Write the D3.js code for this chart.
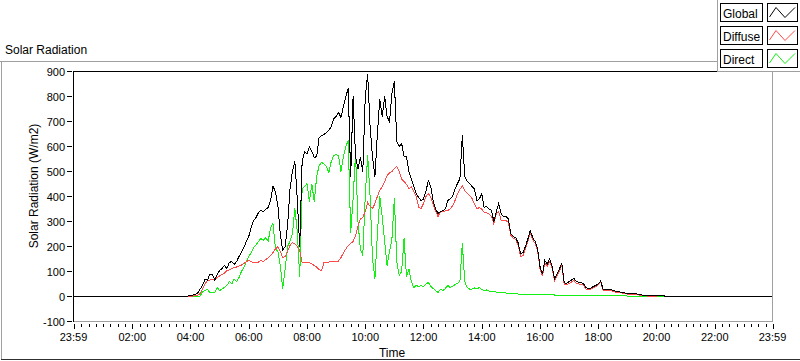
<!DOCTYPE html>
<html>
<head>
<meta charset="utf-8">
<title>Solar Radiation</title>
<style>
  body { margin: 0; background: #fff; }
  svg text { font-family: "Segoe UI", Tahoma, "Liberation Sans", Arial, sans-serif; fill: #000; }
</style>
<script src="https://d3js.org/d3.v7.min.js"></script>
</head>
<body>
<script>
// first entry "23:59" is the previous day (start of the axis)
const times = ["23:59", "03:50",
  "04:00","04:05","04:10","04:15","04:20","04:25","04:30","04:35","04:40","04:45","04:50","04:55",
  "05:00","05:05","05:10","05:15","05:20","05:25","05:30","05:35","05:40","05:45","05:50","05:55",
  "06:00","06:05","06:10","06:15","06:20","06:25","06:30","06:35","06:40","06:45","06:50","06:55",
  "07:00","07:05","07:10","07:15","07:20","07:25","07:30","07:35","07:40","07:45","07:50","07:55",
  "08:00","08:05","08:10","08:15","08:20","08:25","08:30","08:35","08:40","08:45","08:50","08:55",
  "09:00","09:05","09:10","09:15","09:20","09:25","09:30","09:35","09:40","09:45","09:50","09:55",
  "10:00","10:05","10:10","10:15","10:20","10:25","10:30","10:35","10:40","10:45","10:50","10:55",
  "11:00","11:05","11:10","11:15","11:20","11:25","11:30","11:35","11:40","11:45","11:50","11:55",
  "12:00","12:05","12:10","12:15","12:20","12:25","12:30","12:35","12:40","12:45","12:50","12:55",
  "13:00","13:05","13:10","13:15","13:20","13:25","13:30","13:35","13:40","13:45","13:50","13:55",
  "14:00","14:05","14:10","14:15","14:20","14:25","14:30","14:35","14:40","14:45","14:50","14:55",
  "15:00","15:05","15:10","15:15","15:20","15:25","15:30","15:35","15:40","15:45","15:50","15:55",
  "16:00","16:05","16:10","16:15","16:20","16:25","16:30","16:35","16:40","16:45","16:50","16:55",
  "17:00","17:05","17:10","17:15","17:20","17:25","17:30","17:35","17:40","17:45","17:50","17:55",
  "18:00","18:05","18:10","18:15","18:20","18:25","18:30",
  "18:40","18:50","19:00","19:10","19:20","19:30","19:40","19:50","20:00","20:10","20:20",
  "20:30","23:59"];

const globalRad = [0, 0,
  4, 6, 8, 14, 30, 45, 70, 64, 90, 88, 66, 88,
  104, 112, 124, 112, 136, 140, 128, 140, 160, 176, 196, 220,
  240, 276, 304, 316, 336, 344, 340, 348, 356, 384, 440, 420,
  364, 250, 185, 200, 284, 430, 500, 540, 390, 200, 540, 580,
  570, 600, 580, 556, 560, 636, 644, 648, 656, 664, 680, 710,
  720, 736, 716, 760, 800, 832, 480, 800, 560, 510, 556, 500,
  796, 890, 680, 556, 480, 650, 790, 720, 800, 720, 700, 812,
  860, 620, 600, 612, 560, 560, 500, 470, 440, 410, 396, 384,
  390, 420, 464, 440, 380, 350, 332, 340, 344, 350, 384, 390,
  400, 430, 452, 470, 644, 480, 460, 452, 440, 430, 384, 390,
  410, 356, 360, 350, 345, 300, 340, 372, 330, 320, 320, 310,
  250, 240, 235, 215, 172, 176, 200, 230, 264, 236, 220, 192,
  120, 90, 144, 130, 150, 120, 70, 90, 110, 132, 55, 52,
  60, 66, 72, 60, 56, 56, 50, 36, 32, 34, 40, 44,
  50, 62, 30, 28, 26, 28, 24,
  20, 16, 12, 12, 10, 6, 4, 4, 4, 6, 0,
  0, 0];

const diffuseRad = [0, 0,
  0, 2, 4, 6, 12, 30, 50, 64, 66, 70, 70, 76,
  82, 88, 94, 104, 106, 112, 116, 118, 122, 126, 132, 140,
  144, 140, 136, 134, 138, 144, 140, 148, 154, 164, 176, 190,
  200, 180, 156, 160, 180, 204, 216, 210, 200, 184, 136, 136,
  138, 136, 130, 124, 118, 108, 104, 136, 138, 138, 140, 140,
  142, 142, 156, 174, 190, 204, 212, 220, 244, 280, 310, 316,
  340, 376, 360, 352, 372, 400, 425, 440, 460, 484, 494, 500,
  512, 520, 500, 470, 460, 448, 432, 438, 420, 400, 358, 352,
  372, 400, 412, 396, 370, 340, 320, 340, 338, 342, 344, 350,
  364, 384, 410, 428, 444, 424, 412, 404, 392, 370, 350, 356,
  350, 336, 334, 330, 320, 290, 330, 340, 304, 304, 304, 296,
  244, 234, 228, 206, 160, 164, 192, 222, 252, 228, 212, 184,
  112, 82, 134, 122, 140, 112, 64, 82, 102, 124, 48, 46,
  52, 58, 64, 52, 50, 50, 44, 30, 28, 30, 36, 40,
  46, 58, 26, 24, 22, 24, 20,
  16, 14, 10, 10, 8, 4, 2, 2, 2, 4, 0,
  0, 0];

const directRad = [0, 0,
  0, 0, 0, 0, 2, 20, 24, 28, 16, 14, 16, 36,
  24, 30, 36, 44, 60, 50, 70, 60, 76, 100, 116, 140,
  160, 176, 196, 206, 220, 232, 224, 236, 220, 276, 292, 192,
  180, 124, 32, 110, 200, 220, 250, 352, 260, 80, 430, 440,
  452, 380, 450, 380, 480, 524, 536, 530, 520, 496, 540, 564,
  568, 564, 500, 560, 600, 624, 256, 392, 572, 300, 190, 164,
  400, 564, 400, 152, 72, 250, 400, 320, 220, 124, 180, 230,
  392, 140, 84, 100, 232, 80, 110, 60, 36, 44, 40, 44,
  40, 50, 56, 40, 32, 24, 16, 28, 24, 32, 44, 36,
  40, 48, 52, 60, 212, 60, 36, 30, 30, 34, 30, 36,
  28, 24, 26, 22, 20, 22, 18, 16, 18, 16, 14, 12,
  12, 12, 12, 10, 10, 10, 8, 8, 8, 8, 8, 8,
  8, 8, 8, 8, 8, 8, 6, 6, 6, 6, 6, 6,
  6, 6, 6, 6, 6, 6, 4, 4, 4, 4, 4, 4,
  4, 4, 4, 4, 4, 6, 6,
  6, 4, 2, 2, 0, 0, 0, 0, 0, 0, 0,
  0, 0];

const yTicks = [-100, 0, 100, 200, 300, 400, 500, 600, 700, 800, 900];
const xTickLabels = ["23:59", "02:00", "04:00", "06:00", "08:00", "10:00", "12:00",
  "14:00", "16:00", "18:00", "20:00", "22:00", "23:59"];
const seriesNames = ["Global", "Diffuse", "Direct"];
const seriesColors = ["#000000", "#ff4a4a", "#14f014"];

function toMinutes(s, prevDay) {
  const p = s.split(":").map(Number);
  return prevDay ? p[0] * 60 + p[1] - 1440 : p[0] * 60 + p[1];
}

const width = 800, height = 361;
const svg = d3.select("body").append("svg")
  .attr("width", width)
  .attr("height", height);

const x = d3.scaleLinear().domain([-1, 1439]).range([73.5, 772.5]);
const y = d3.scaleLinear().domain([-100, 900]).range([321.5, 71.5]);

// outer panel frame
svg.append("line").attr("x1", 0).attr("x2", 800).attr("y1", 61.5).attr("y2", 61.5).attr("stroke", "#a0a0a0");
svg.append("line").attr("x1", 1.5).attr("x2", 1.5).attr("y1", 61).attr("y2", 360).attr("stroke", "#a0a0a0");
svg.append("line").attr("x1", 1).attr("x2", 800).attr("y1", 359.5).attr("y2", 359.5).attr("stroke", "#303030");

svg.append("text").attr("x", 5).attr("y", 54).style("font-size", "12px").text("Solar Radiation");

// plot area
svg.append("rect").attr("x", 73.5).attr("y", 71.5).attr("width", 699).attr("height", 250).attr("fill", "#fff");

const lineGen = d3.line()
  .x((d, i) => x(toMinutes(times[i], i === 0)))
  .y(d => y(d));

const series = [globalRad, diffuseRad, directRad];
for (let k = series.length - 1; k >= 0; k--) {
  svg.append("path")
    .datum(series[k])
    .attr("d", lineGen)
    .attr("fill", "none")
    .attr("stroke", seriesColors[k])
    .attr("stroke-width", 1)
    .attr("shape-rendering", "crispEdges");
}

// plot frame
svg.append("line").attr("x1", 73).attr("x2", 773).attr("y1", 71.5).attr("y2", 71.5).attr("stroke", "#000");
svg.append("line").attr("x1", 73.5).attr("x2", 73.5).attr("y1", 71).attr("y2", 322).attr("stroke", "#000");
svg.append("line").attr("x1", 74).attr("x2", 773).attr("y1", 321.5).attr("y2", 321.5).attr("stroke", "#a0a0a0");
svg.append("line").attr("x1", 772.5).attr("x2", 772.5).attr("y1", 72).attr("y2", 322).attr("stroke", "#a0a0a0");

// y axis
const yAxis = svg.append("g");
yAxis.selectAll("line").data(yTicks).enter().append("line")
  .attr("x1", 67).attr("x2", 72)
  .attr("y1", d => y(d)).attr("y2", d => y(d))
  .attr("stroke", "#000");
yAxis.selectAll("text").data(yTicks).enter().append("text")
  .attr("x", 65).attr("y", d => y(d) + 4)
  .attr("text-anchor", "end")
  .style("font-size", "11px")
  .text(d => d);

svg.append("text")
  .attr("transform", "translate(38,186) rotate(-90)")
  .attr("text-anchor", "middle")
  .style("font-size", "12px")
  .text("Solar Radiation (W/m2)");

// x axis
const minorTicks = d3.range(0, 1440, 15);
const xAxis = svg.append("g");
xAxis.selectAll("line.minor").data(minorTicks).enter().append("line")
  .attr("class", "minor")
  .attr("x1", d => Math.round(x(d)) + 0.5).attr("x2", d => Math.round(x(d)) + 0.5)
  .attr("y1", 324).attr("y2", 327)
  .attr("stroke", "#000");
xAxis.selectAll("line.major").data(xTickLabels).enter().append("line")
  .attr("class", "major")
  .attr("x1", (d, i) => Math.round(x(toMinutes(d, i === 0))) + 0.5)
  .attr("x2", (d, i) => Math.round(x(toMinutes(d, i === 0))) + 0.5)
  .attr("y1", 324).attr("y2", 329)
  .attr("stroke", "#000");
xAxis.selectAll("text").data(xTickLabels).enter().append("text")
  .attr("x", (d, i) => x(toMinutes(d, i === 0)))
  .attr("y", 341)
  .attr("text-anchor", "middle")
  .style("font-size", "11px")
  .text(d => d);

svg.append("text").attr("x", 392).attr("y", 357)
  .attr("text-anchor", "middle")
  .style("font-size", "12px")
  .text("Time");

// legend
const legend = svg.append("g");
legend.append("rect").attr("x", 717).attr("y", 0).attr("width", 83).attr("height", 72).attr("fill", "#fff");
legend.append("line").attr("x1", 717.5).attr("x2", 717.5).attr("y1", 0).attr("y2", 72).attr("stroke", "#a0a0a0");
legend.append("line").attr("x1", 717).attr("x2", 800).attr("y1", 71.5).attr("y2", 71.5).attr("stroke", "#a0a0a0");

const swatchLine = d3.line();
seriesNames.forEach((name, i) => {
  const y0 = 3.5 + i * 23;
  legend.append("rect").attr("x", 720.5).attr("y", y0).attr("width", 42).attr("height", 18)
    .attr("fill", "#fff").attr("stroke", "#000");
  legend.append("text").attr("x", 723).attr("y", y0 + 14).style("font-size", "12px").text(name);
  legend.append("rect").attr("x", 767.5).attr("y", y0).attr("width", 30).attr("height", 18)
    .attr("fill", "#fff").attr("stroke", "#000");
  legend.append("path")
    .attr("d", swatchLine([[769.5, y0 + 13.5], [776, y0 + 4], [785, y0 + 14], [795, y0 + 4]]))
    .attr("fill", "none")
    .attr("stroke", seriesColors[i]);
});
</script>
</body>
</html>
